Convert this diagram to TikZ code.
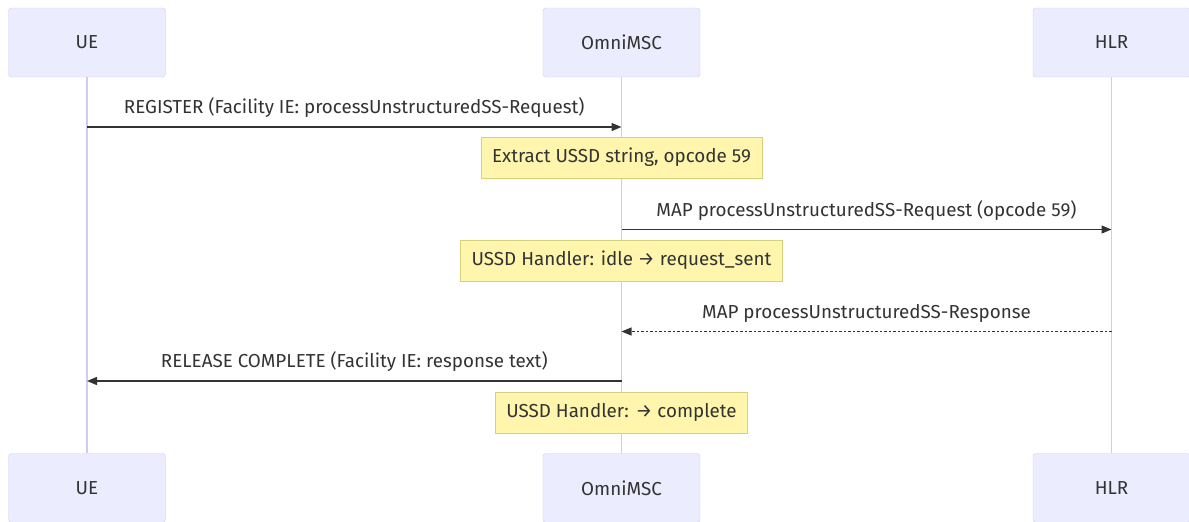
\documentclass[tikz,border=0pt]{standalone}
\usepackage{fontspec}
\setmainfont{Fira Sans}
\usetikzlibrary{arrows.meta}
\definecolor{actorfill}{HTML}{ECECFF}
\definecolor{actorline}{HTML}{D4C8F5}
\definecolor{notefill}{HTML}{FFF5AD}
\definecolor{noteline}{HTML}{D2D27F}
\definecolor{txt}{HTML}{333333}
\begin{document}
\begin{tikzpicture}[x=1pt,y=-1pt,
  actor/.style={draw=actorline,fill=actorfill,rounded corners=3pt,minimum width=157pt,minimum height=69pt,font=\fontsize{18.8}{22}\selectfont,text=txt},
  life/.style={draw=actorline,line width=1.1pt},
  msg/.style={draw=txt,line width=1.4pt,-{Triangle[length=10pt,width=8pt]}},
  reply/.style={msg,line width=1.1pt,dash pattern=on 2.5pt off 2pt},
  note/.style={draw=noteline,fill=notefill,minimum height=41pt,inner xsep=11pt,font=\fontsize{18.8}{22}\selectfont,text=txt},
  lbl/.style={font=\fontsize{18.8}{22}\selectfont,text=txt,anchor=base,yshift=13.5pt}]
\useasboundingbox (0,0) rectangle (1189,522);
% participants and lifelines
\foreach \n/\x/\t in {ue/87/UE,msc/621.5/OmniMSC,hlr/1111.5/HLR}{
  \node[actor] (\n-top) at (\x,42.5) {\t};
  \node[actor] (\n-bot) at (\x,488) {\t};
  \draw[life] (\n-top) -- (\n-bot);
}
% messages
\draw[msg] (ue-top |- 0,127) -- node[lbl] (l1) {REGISTER (Facility IE: processUnstructuredSS-Request)} (msc-top |- 0,127);
\node[note] (n1) at (msc-top |- 0,157.5) {Extract USSD string, opcode 59};
\draw[msg] (msc-top |- 0,229.5) -- node[lbl] (l2) {MAP processUnstructuredSS-Request (opcode 59)} (hlr-top |- 0,229.5);
\node[note] (n2) at (msc-top |- 0,260.5) {USSD Handler: idle → request\_sent};
\draw[reply] (hlr-top |- 0,331.5) -- node[lbl] (l3) {MAP processUnstructuredSS-Response} (msc-top |- 0,331.5);
\draw[msg] (msc-top |- 0,381) -- node[lbl] (l4) {RELEASE COMPLETE (Facility IE: response text)} (ue-top |- 0,381);
\node[note] (n3) at (msc-top |- 0,412.5) {USSD Handler: → complete};
\end{tikzpicture}
\end{document}
